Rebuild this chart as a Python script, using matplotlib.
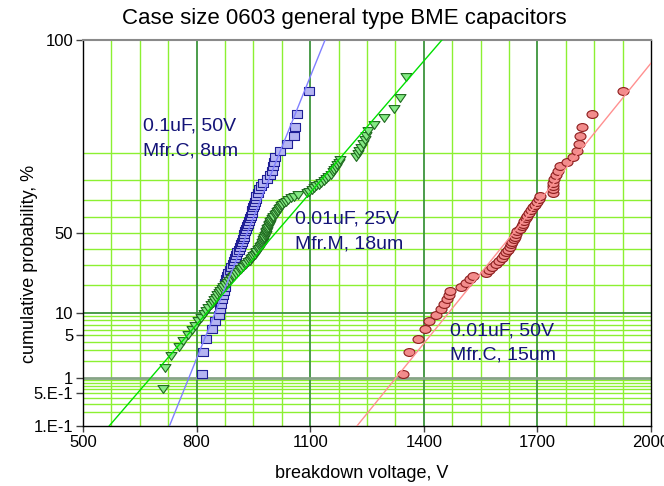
import numpy as np
import matplotlib
matplotlib.use("Agg")
import matplotlib.pyplot as plt
from matplotlib.path import Path
from matplotlib.transforms import Affine2D
from statistics import NormalDist

plt.rcParams['font.family'] = ['Liberation Sans', 'DejaVu Sans']

# Breakdown voltages (V), sorted ascending
volt_c_01uf_50v = [
    815, 817, 825, 840, 848, 858, 862, 865, 868, 870,
    873, 875, 876, 878, 881, 884, 888, 892, 895, 898,
    902, 905, 908, 911, 914, 916, 919, 922, 924, 926,
    928, 930, 933, 936, 939, 941, 943, 945, 947, 950,
    952, 954, 956, 958, 961, 965, 969, 975, 985, 995,
    1000, 1002, 1004, 1006, 1020, 1040, 1056, 1060, 1064, 1096,
]
volt_m_001uf_25v = [
    712, 716, 732, 754, 764, 776, 787, 797, 805, 812,
    819, 825, 831, 837, 842, 847, 851, 855, 858, 862,
    866, 870, 876, 881, 886, 891, 896, 900, 905, 909,
    914, 918, 923, 927, 931, 935, 940, 944, 947, 950,
    953, 956, 958, 961, 964, 967, 970, 972, 973, 975,
    976, 978, 979, 980, 982, 983, 984, 985, 987, 988,
    990, 991, 993, 995, 997, 999, 1001, 1003, 1006, 1009,
    1012, 1015, 1017, 1020, 1023, 1026, 1030, 1036, 1042, 1048,
    1057, 1068, 1092, 1098, 1104, 1110, 1116, 1123, 1129, 1136,
    1143, 1148, 1154, 1160, 1163, 1167, 1171, 1175, 1179, 1222,
    1226, 1230, 1235, 1240, 1244, 1248, 1253, 1268, 1295, 1322,
    1336, 1354,
]
volt_c_001uf_50v = [
    1345, 1360, 1386, 1402, 1413, 1433, 1446, 1453, 1461, 1466,
    1470, 1499, 1511, 1521, 1530, 1563, 1572, 1580, 1590, 1599,
    1607, 1613, 1618, 1622, 1627, 1630, 1634, 1637, 1640, 1643,
    1647, 1654, 1659, 1662, 1665, 1669, 1673, 1677, 1682, 1688,
    1693, 1699, 1703, 1706, 1740, 1741, 1741, 1742, 1744, 1748,
    1754, 1761, 1779, 1794, 1804, 1809, 1813, 1817, 1845, 1926,
]

# Normal fits: (mean, sigma) in volts
fit_c_01uf_50v = (934.0, 66.4)
fit_m_001uf_25v = (1009.0, 142.0)
fit_c_001uf_50v = (1637.0, 133.5)

label_c_01uf_50v = ["0.1uF, 50V", "Mfr.C, 8um"]
label_m_001uf_25v = ["0.01uF, 25V", "Mfr.M, 18um"]
label_c_001uf_50v = ["0.01uF, 50V", "Mfr.C, 15um"]

x_ticks = [500, 800, 1100, 1400, 1700, 2000]
y_ticks = [0.1, 0.5, 1, 5, 10, 50, 99.9]
y_tick_labels = ["1.E-1", "5.E-1", "1", "5", "10", "50", "100"]

_nd = NormalDist()


def prob_to_z(p):
    p = np.clip(np.asarray(p, dtype=float) / 100.0, 1e-9, 1 - 1e-9)
    return np.vectorize(_nd.inv_cdf, otypes=[float])(p)


def z_to_prob(z):
    z = np.clip(np.asarray(z, dtype=float), -30, 30)
    return np.vectorize(_nd.cdf, otypes=[float])(z) * 100.0


def median_ranks(n):
    i = np.arange(1, n + 1)
    return (i - 0.3) / (n + 0.4) * 100.0


def fit_line(mu, sigma):
    z = np.array([-3.6, 3.6])
    return mu + sigma * z, z_to_prob(z)


# wide markers (the symbols are drawn about 1.4x wider than tall)
box = Path([(-1.4, -1), (1.4, -1), (1.4, 1), (-1.4, 1), (-1.4, -1)], closed=True)
tri_down = Path([(-1.4, 1), (1.4, 1), (0, -1), (-1.4, 1)], closed=True)
oval = Affine2D().scale(1.4, 1.0).transform_path(Path.unit_circle())

fig = plt.figure(figsize=(6.64, 4.86), dpi=100)
ax = fig.add_axes([83 / 664, 1 - 425.5 / 486, (651 - 83) / 664, (425.5 - 40) / 486])
ax.set_yscale('function', functions=(prob_to_z, z_to_prob))
ax.set_xlim(500, 2000)
ax.set_ylim(0.1, 99.9)

# grid
light = '#8cf032'
dark = '#3d943d'
for v in [575, 650, 725, 875, 950, 1025, 1175, 1250, 1325, 1475, 1550,
          1625, 1775, 1850, 1925]:
    ax.axvline(v, color=light, lw=1.0, zorder=1)
for v in [800, 1100, 1400, 1700]:
    ax.axvline(v, color=dark, lw=1.3, zorder=1.2)
for p in [0.2, 0.3, 0.4, 0.5, 0.6, 0.7, 0.8, 0.9,
          2, 3, 4, 5, 6, 7, 8, 9,
          20, 30, 40, 50, 60, 70, 80, 90]:
    ax.axhline(p, color=light, lw=1.0, zorder=1)
ax.axhline(10, color=dark, lw=1.3, zorder=1.2)
ax.axhline(1, color='#86a486', lw=2.0, zorder=1.2)

series = [
    (volt_c_01uf_50v, fit_c_01uf_50v, box, '#b4b4f2', '#1e1e96', '#8080ff'),
    (volt_m_001uf_25v, fit_m_001uf_25v, tri_down, '#84ea84', '#1f6a1f', '#00e000'),
    (volt_c_001uf_50v, fit_c_001uf_50v, oval, '#f28c8c', '#8c1c1c', '#ff9090'),
]
for volts, (mu, sd), mk, fc, ec, lc in series:
    ax.plot(volts, median_ranks(len(volts)), linestyle='none', marker=mk,
            markersize=7.9, markerfacecolor=fc, markeredgecolor=ec,
            markeredgewidth=0.8, zorder=3)
    lx, ly = fit_line(mu, sd)
    ax.plot(lx, ly, color=lc, lw=1.0, zorder=4)

# annotations, two lines each
def put_label(lines, x_px, base_px):
    for k, s in enumerate(lines):
        fig.text(x_px / 664, 1 - (base_px + 25 * k) / 486, s, fontsize=14,
                 color='#141478', ha='left', va='baseline')

put_label(label_c_01uf_50v, 143, 130.5)
put_label(label_m_001uf_25v, 295, 223.3)
put_label(label_c_001uf_50v, 450, 335)

ax.set_xticks(x_ticks)
ax.set_xticklabels([str(t) for t in x_ticks])
ax.set_yticks(y_ticks)
ax.set_yticklabels(y_tick_labels)
ax.yaxis.set_minor_locator(matplotlib.ticker.NullLocator())
ax.xaxis.set_minor_locator(matplotlib.ticker.NullLocator())
ax.tick_params(axis='y', direction='out', length=5, width=1, pad=2,
               labelsize=12, color='#404040')
ax.tick_params(axis='x', direction='out', length=4, width=1, pad=3,
               labelsize=12, color='#404040')

for s in ['left', 'bottom', 'right']:
    ax.spines[s].set_color('black')
    ax.spines[s].set_linewidth(1.0)
ax.spines['top'].set_color('#8a8a8a')
ax.spines['top'].set_linewidth(1.5)

fig.text(344.7 / 664, 1 - 24 / 486, 'Case size 0603 general type BME capacitors',
         fontsize=16, ha='center', va='baseline')
fig.text(362 / 664, 1 - 473 / 486, 'breakdown voltage, V', fontsize=13,
         ha='center', va='center')
fig.text(30 / 664, 1 - 264 / 486, 'cumulative probability, %', fontsize=13,
         ha='center', va='center', rotation=90)

fig.savefig('out.png', dpi=100)
